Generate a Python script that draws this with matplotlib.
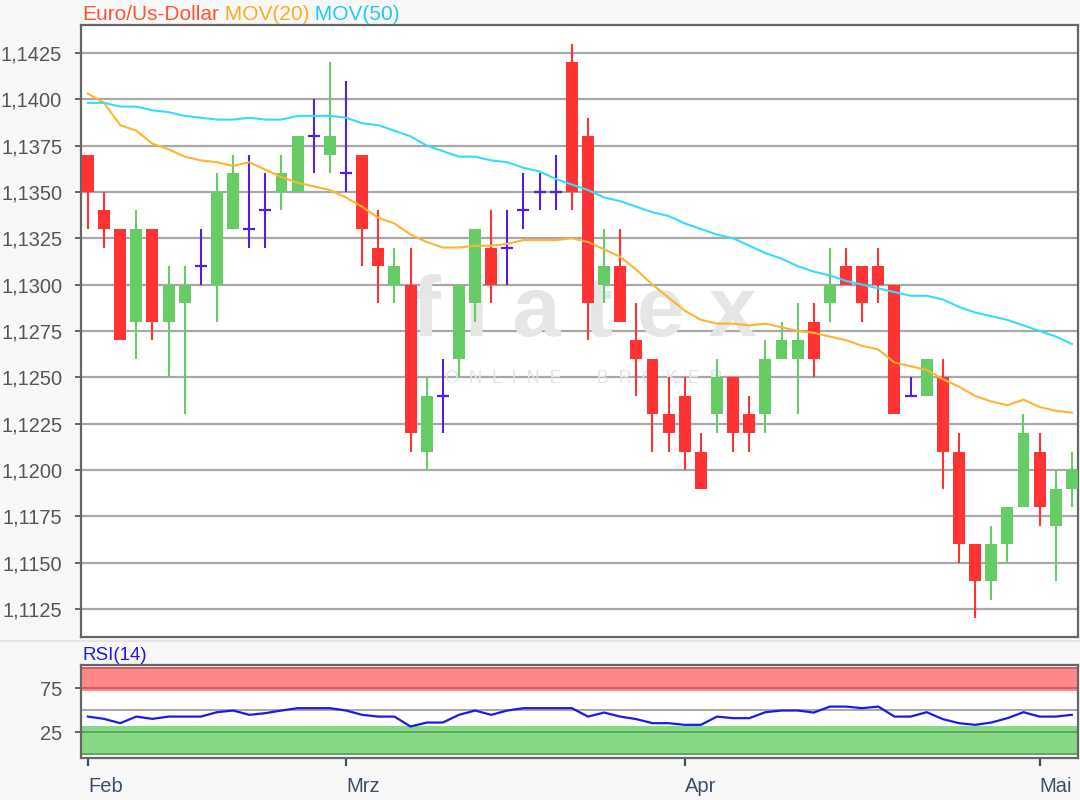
import matplotlib
matplotlib.use('Agg')
import matplotlib.pyplot as plt
import numpy as np
import pandas as pd

plt.rcParams['font.family'] = ['Liberation Sans', 'DejaVu Sans']

# ---------------- data ----------------
START_DATE = '2019-02-07'
END_DATE = '2019-05-03'

OPEN = [1.137, 1.134, 1.133, 1.128, 1.133, 1.128, 1.129, 1.131, 1.130, 1.133,
        1.133, 1.134, 1.135, 1.135, 1.138, 1.137, 1.136, 1.137, 1.132, 1.130,
        1.130, 1.121, 1.124, 1.126, 1.129, 1.132, 1.132, 1.134, 1.135, 1.135,
        1.142, 1.138, 1.130, 1.131, 1.127, 1.126, 1.123, 1.124, 1.121, 1.123,
        1.125, 1.123, 1.123, 1.126, 1.126, 1.128, 1.129, 1.131, 1.131, 1.131,
        1.130, 1.124, 1.124, 1.125, 1.121, 1.116, 1.114, 1.116, 1.118, 1.121,
        1.117, 1.119]
HIGH = [1.137, 1.135, 1.133, 1.134, 1.133, 1.131, 1.131, 1.133, 1.136, 1.137,
        1.137, 1.136, 1.137, 1.138, 1.140, 1.142, 1.141, 1.137, 1.134, 1.132,
        1.132, 1.125, 1.126, 1.130, 1.133, 1.134, 1.134, 1.136, 1.136, 1.137,
        1.143, 1.139, 1.133, 1.133, 1.129, 1.126, 1.125, 1.125, 1.122, 1.126,
        1.125, 1.124, 1.127, 1.128, 1.129, 1.129, 1.132, 1.132, 1.131, 1.132,
        1.130, 1.125, 1.126, 1.126, 1.122, 1.116, 1.117, 1.118, 1.123, 1.122,
        1.120, 1.121]
LOW = [1.133, 1.132, 1.127, 1.126, 1.127, 1.125, 1.123, 1.130, 1.128, 1.133,
       1.132, 1.132, 1.134, 1.135, 1.136, 1.136, 1.135, 1.131, 1.129, 1.129,
       1.121, 1.120, 1.122, 1.125, 1.128, 1.129, 1.130, 1.133, 1.134, 1.134,
       1.134, 1.127, 1.129, 1.128, 1.124, 1.121, 1.121, 1.120, 1.119, 1.122,
       1.121, 1.121, 1.122, 1.126, 1.123, 1.125, 1.128, 1.130, 1.128, 1.129,
       1.123, 1.124, 1.124, 1.119, 1.115, 1.112, 1.113, 1.115, 1.118, 1.117,
       1.114, 1.118]
CLOSE = [1.135, 1.133, 1.127, 1.133, 1.128, 1.130, 1.130, 1.131, 1.135, 1.136,
         1.133, 1.134, 1.136, 1.138, 1.138, 1.138, 1.136, 1.133, 1.131, 1.131,
         1.122, 1.124, 1.124, 1.130, 1.133, 1.130, 1.132, 1.134, 1.135, 1.135,
         1.135, 1.129, 1.131, 1.128, 1.126, 1.123, 1.122, 1.121, 1.119, 1.125,
         1.122, 1.122, 1.126, 1.127, 1.127, 1.126, 1.130, 1.130, 1.129, 1.130,
         1.123, 1.124, 1.126, 1.121, 1.116, 1.114, 1.116, 1.118, 1.122, 1.118,
         1.119, 1.120]
MA20 = [1.1403, 1.1398, 1.1386, 1.1383, 1.1376, 1.1373, 1.1369, 1.1367, 1.1366, 1.1364,
        1.1366, 1.1362, 1.1358, 1.1355, 1.1353, 1.1351, 1.1347, 1.1342, 1.1336, 1.1333,
        1.1327, 1.1323, 1.1320, 1.1320, 1.1321, 1.1321, 1.1322, 1.1324, 1.1324, 1.1324,
        1.1325, 1.1323, 1.1319, 1.1315, 1.1308, 1.1300, 1.1293, 1.1286, 1.1281, 1.1279,
        1.1279, 1.1278, 1.1279, 1.1277, 1.1275, 1.1274, 1.1272, 1.1270, 1.1267, 1.1265,
        1.1258, 1.1256, 1.1254, 1.1249, 1.1245, 1.1240, 1.1237, 1.1235, 1.1238, 1.1234,
        1.1232, 1.1231]
MA50 = [1.1398, 1.1398, 1.1396, 1.1396, 1.1394, 1.1393, 1.1391, 1.1390, 1.1389, 1.1389,
        1.1390, 1.1389, 1.1389, 1.1391, 1.1391, 1.1391, 1.1390, 1.1387, 1.1386, 1.1383,
        1.1380, 1.1375, 1.1372, 1.1369, 1.1369, 1.1367, 1.1366, 1.1363, 1.1361, 1.1357,
        1.1354, 1.1351, 1.1347, 1.1345, 1.1342, 1.1339, 1.1337, 1.1333, 1.1330, 1.1327,
        1.1325, 1.1321, 1.1317, 1.1314, 1.1310, 1.1307, 1.1305, 1.1302, 1.1300, 1.1298,
        1.1296, 1.1294, 1.1294, 1.1292, 1.1288, 1.1285, 1.1283, 1.1281, 1.1278, 1.1275,
        1.1272, 1.1268]
RSI14 = [42.7, 40.1, 35.2, 42.7, 40.1, 42.7, 42.7, 42.7, 47.7, 49.6,
         44.7, 46.6, 49.6, 52.3, 52.3, 52.3, 49.6, 44.7, 42.7, 42.7,
         31.4, 35.9, 35.9, 44.7, 49.6, 44.7, 49.6, 52.3, 52.3, 52.3,
         52.3, 42.7, 47.3, 42.7, 39.8, 35.2, 35.2, 33.3, 33.3, 42.7,
         40.9, 40.9, 47.7, 49.6, 49.6, 47.3, 54.1, 54.1, 52.3, 54.1,
         42.7, 42.7, 47.7, 39.8, 35.2, 33.3, 35.9, 40.9, 47.7, 42.7,
         42.7, 44.7]

MONTH_LABELS = {2: 'Feb', 3: 'Mrz', 4: 'Apr', 5: 'Mai'}
PRICE_TICKS = [1.1125, 1.1150, 1.1175, 1.1200, 1.1225, 1.1250, 1.1275,
               1.1300, 1.1325, 1.1350, 1.1375, 1.1400, 1.1425]
PRICE_TICK_LABELS = ['1,1125', '1,1150', '1,1175', '1,1200', '1,1225', '1,1250', '1,1275',
                     '1,1300', '1,1325', '1,1350', '1,1375', '1,1400', '1,1425']
RSI_TICKS = [25, 75]
RSI_TICK_LABELS = ['25', '75']
RSI_OVERBOUGHT = (72, 98.5)
RSI_OVERSOLD = (0, 32)

# ---------------- styles ----------------
RED = '#ff3333'
GREEN = '#66cc66'
DOJI = '#5520dd'
MA20_C = '#ffb330'
MA50_C = '#33dcff'
GRID_C = '#a8a8a8'
SPINE_C = '#666666'
BG = '#f8f8f8'

W, H = 1080, 800
fig = plt.figure(figsize=(W / 100, H / 100), dpi=100, facecolor=BG)

L, R = 81, 1078
ax = fig.add_axes([L / W, 1 - 637 / H, (R - L) / W, (637 - 25) / H])
rax = fig.add_axes([L / W, 1 - 758 / H, (R - L) / W, (758 - 665) / H])

dates = pd.bdate_range(START_DATE, END_DATE)
x = np.arange(len(dates))
o = np.array(OPEN); h = np.array(HIGH); lo = np.array(LOW); c = np.array(CLOSE)

colors = np.where(c > o, GREEN, np.where(c < o, RED, DOJI))
bw = 0.74

# wicks
ax.vlines(x, lo, h, colors=colors, lw=1.5, zorder=3)
# bodies
body = c != o
ax.bar(x[body], np.abs(c - o)[body], bottom=np.minimum(o, c)[body], width=bw,
       color=colors[body], linewidth=0, zorder=4)
# doji
dj = ~body
ax.hlines(c[dj], x[dj] - bw / 2, x[dj] + bw / 2, colors=DOJI, lw=1.6, zorder=4)

# moving averages
ax.plot(x, MA20, color=MA20_C, lw=1.5, zorder=5)
ax.plot(x, MA50, color=MA50_C, lw=1.5, zorder=5)

xlim = (-0.43, 61.38)
ax.set_xlim(*xlim)
ax.set_ylim(1.1110, 1.1440)
ax.set_yticks(PRICE_TICKS)
ax.set_yticklabels(PRICE_TICK_LABELS)
ax.set_xticks([])
ax.set_axisbelow(True)
ax.yaxis.grid(True, color=GRID_C, lw=1.6)
ax.tick_params(axis='y', length=4.5, width=1.4, color=SPINE_C, pad=9,
               labelsize=14.4, labelcolor='#555555')
ax.set_facecolor('white')
for s in ax.spines.values():
    s.set_color(SPINE_C)
    s.set_linewidth(1.6)

# watermark
ax.text(0.505, 0.528, 'f l a t e x', transform=ax.transAxes, ha='center', va='center',
        fontsize=62, fontweight='bold', color='#e6e6e6', zorder=1)
ax.text(0.504, 0.423, 'O  N  L  I  N  E       B  R  O  K  E  R', transform=ax.transAxes,
        ha='center', va='center', fontsize=13, color='#e4e4e4', zorder=1)

# title
t1 = fig.text(82 / W, 1 - 14 / H, 'Euro/Us-Dollar', color='#ff5533', fontsize=15,
              va='center', ha='left')
a1 = ax.annotate(' MOV(20)', xy=(1, 0), xycoords=t1, va='bottom', ha='left',
                 color='#ffaa22', fontsize=15, annotation_clip=False)
a2 = ax.annotate(' MOV(50)', xy=(1, 0), xycoords=a1, va='bottom', ha='left',
                 color='#22c8ee', fontsize=15, annotation_clip=False)

# RSI panel
rax.set_facecolor('white')
rax.axhspan(*RSI_OVERBOUGHT, color='#ff8888', lw=0, zorder=1)
rax.axhspan(*RSI_OVERSOLD, color='#88d888', lw=0, zorder=1)
rax.axhline(RSI_OVERBOUGHT[1], color='#dd5a5a', lw=1.4, zorder=2)
rax.axhline(75, color='#dd5a5a', lw=1.4, zorder=2)
rax.axhline(RSI_OVERSOLD[0], color='#55aa55', lw=1.4, zorder=2)
rax.axhline(25, color='#55aa55', lw=1.4, zorder=2)
rax.axhline(50, color=GRID_C, lw=1.4, zorder=2)
rax.plot(x, RSI14, color='#1a1aee', lw=1.6, zorder=5)
rax.set_xlim(*xlim)
rax.set_ylim(-4.5, 101.5)
rax.set_yticks(RSI_TICKS)
rax.set_yticklabels(RSI_TICK_LABELS)

month_pos, month_lab = [], []
for i, d in enumerate(dates):
    if i == 0 or d.month != dates[i - 1].month:
        month_pos.append(i)
        month_lab.append(MONTH_LABELS[d.month])
rax.set_xticks(month_pos)
rax.set_xticklabels(month_lab, ha='left')
rax.tick_params(axis='y', length=4.5, width=1.4, color=SPINE_C, pad=9,
                labelsize=14.4, labelcolor='#555555')
rax.tick_params(axis='x', length=6, width=1.6, color='#3d5066', pad=8,
                labelsize=14.5, labelcolor='#3d5066')
for s in rax.spines.values():
    s.set_color(SPINE_C)
    s.set_linewidth(1.6)

fig.text(82 / W, 1 - 655 / H, 'RSI(14)', color='#1a1aee', fontsize=13.5,
         va='center', ha='left')

# separator line between panels
fig.add_artist(plt.Line2D([0, 1], [1 - 641 / H, 1 - 641 / H], color='#e2e2e2', lw=1.2))

fig.savefig('out.png', dpi=100, facecolor=BG)
